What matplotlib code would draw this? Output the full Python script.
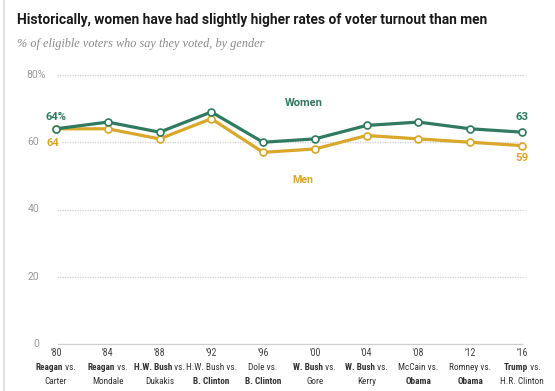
import matplotlib
matplotlib.use("Agg")
import matplotlib.pyplot as plt
from matplotlib import font_manager
from matplotlib.transforms import offset_copy, blended_transform_factory
from matplotlib.lines import Line2D

years = ["'80", "'84", "'88", "'92", "'96", "'00", "'04", "'08", "'12", "'16"]
matchups = [
    [[("Reagan", True), (" vs.", False)], [("Carter", False)]],
    [[("Reagan", True), (" vs.", False)], [("Mondale", False)]],
    [[("H.W. Bush", True), (" vs.", False)], [("Dukakis", False)]],
    [[("H.W. Bush vs.", False)], [("B. Clinton", True)]],
    [[("Dole vs.", False)], [("B. Clinton", True)]],
    [[("W. Bush", True), (" vs.", False)], [("Gore", False)]],
    [[("W. Bush", True), (" vs.", False)], [("Kerry", False)]],
    [[("McCain vs.", False)], [("Obama", True)]],
    [[("Romney vs.", False)], [("Obama", True)]],
    [[("Trump", True), (" vs.", False)], [("H.R. Clinton", False)]],
]
women = [64, 66, 63, 69, 60, 61, 65, 66, 64, 63]
men = [64, 64, 61, 67, 57, 58, 62, 61, 60, 59]
yticks = [0, 20, 40, 60, 80]

GREEN = "#2f7a60"
GOLD = "#d9a82a"
GRID = "#cfcfcf"

avail = {f.name for f in font_manager.fontManager.ttflist}
def pick(*names):
    for n in names:
        if n in avail:
            return n
    return "DejaVu Sans"
narrow = pick("Roboto Condensed", "Archivo Narrow", "PT Sans Narrow", "Liberation Sans")
boldf = pick("Roboto", "Liberation Sans")
serif = pick("Liberation Serif", "DejaVu Serif")

W, H = 555, 391
fig = plt.figure(figsize=(W / 100, H / 100), dpi=100)
renderer = fig.canvas.get_renderer()
ax = fig.add_axes([56 / W, 1 - 344 / H, (525 - 56) / W, (344 - 75) / H])
ax.set_xlim(0, 9 * 469 / 466)
ax.set_ylim(0, 80)
ax.axis("off")

def fit(t, target):
    w = t.get_window_extent(renderer=renderer).width
    t.set_fontsize(t.get_fontsize() * target / w)

# left border
fig.add_artist(Line2D([3.5 / W, 3.5 / W], [0, 1], color="#e2e2e2", lw=1.6, transform=fig.transFigure))

# grid and y labels
for v in yticks:
    if v == 0:
        ax.plot([0.03, 9.0], [0, 0], color=GRID, lw=0.9, clip_on=False)
    else:
        ax.plot([0.02, 9.06], [v, v], color=GRID, lw=0.9, ls=(0, (1, 1)), clip_on=False)
    ypix = H - (344 - v * 269 / 80)
    if v == yticks[-1]:
        fig.text(46 / W, ypix / H, f"{v}%", ha="right", va="center", fontsize=7.5,
                 color="#9a9a9a", family=boldf)
    else:
        fig.text(39 / W, ypix / H, str(v), ha="right", va="center", fontsize=7.5,
                 color="#9a9a9a", family=boldf)

x = list(range(len(years)))
ax.plot(x, men, color=GOLD, lw=2.3, marker="o", ms=5, mfc="white", mec=GOLD, mew=1.2,
        clip_on=False, zorder=3)
ax.plot(x, women, color=GREEN, lw=2.3, marker="o", ms=5, mfc="white", mec=GREEN, mew=1.2,
        clip_on=False, zorder=4)

# labels
t = ax.text(0, women[0] + 3.4, f"{women[0]}%", color=GREEN, fontsize=8.5, fontweight="bold",
            ha="center", va="center", family=boldf)
fit(t, 21)
t = ax.text(-0.06, men[0] - 4.3, f"{men[0]}", color=GOLD, fontsize=8.5, fontweight="bold",
            ha="center", va="center", family=boldf,
            bbox=dict(facecolor="white", edgecolor="none", pad=1))
fit(t, 13)
t = ax.text(9, women[-1] + 4.6, f"{women[-1]}", color=GREEN, fontsize=8.5, fontweight="bold",
            ha="center", va="center", family=boldf)
fit(t, 13)
t = ax.text(9, men[-1] - 3.7, f"{men[-1]}", color=GOLD, fontsize=8.5, fontweight="bold",
            ha="center", va="center", family=boldf)
fit(t, 13)
t = ax.text(4.78, 71.6, "Women", color=GREEN, fontsize=8, fontweight="bold",
            ha="center", va="center", family=boldf)
fit(t, 38)
t = ax.text(4.76, 48.8, "Men", color=GOLD, fontsize=8, fontweight="bold",
            ha="center", va="center", family=boldf)
fit(t, 21)

# title / subtitle
tt = fig.text(17 / W, 1 - 20 / H, "Historically, women have had slightly higher rates of voter turnout than men",
              fontsize=10.5, fontweight="bold", family=boldf, ha="left", va="center", color="#1a1a1a")
fit(tt, 470)
st = fig.text(17 / W, 1 - 44 / H, "% of eligible voters who say they voted, by gender",
              fontsize=8.5, style="italic", family=serif, ha="left", va="center",
              color="#8a8a8a")
fit(st, 246)

# x labels
btrans = blended_transform_factory(ax.transData, fig.transFigure)
for i, yr in enumerate(years):
    ax.text(i, 1 - 353 / H, yr, transform=btrans, ha="center", va="center",
            fontsize=7.2, color="#444444", family=narrow)
    for li, parts in enumerate(matchups[i]):
        ypos = 1 - (367 + 14 * li) / H
        texts = []
        widths = []
        for s, b in parts:
            t = ax.text(i, ypos, s, transform=btrans, ha="left", va="center", fontsize=6.7,
                        color="#333333", family=narrow, fontweight="bold" if b else "normal")
            texts.append(t)
            widths.append(t.get_window_extent(renderer=renderer).width)
        total = sum(widths)
        off = -total / 2
        for t, w in zip(texts, widths):
            t.set_transform(offset_copy(btrans, fig=fig, x=off, y=0, units="dots"))
            off += w

fig.savefig("out.png", dpi=100)
